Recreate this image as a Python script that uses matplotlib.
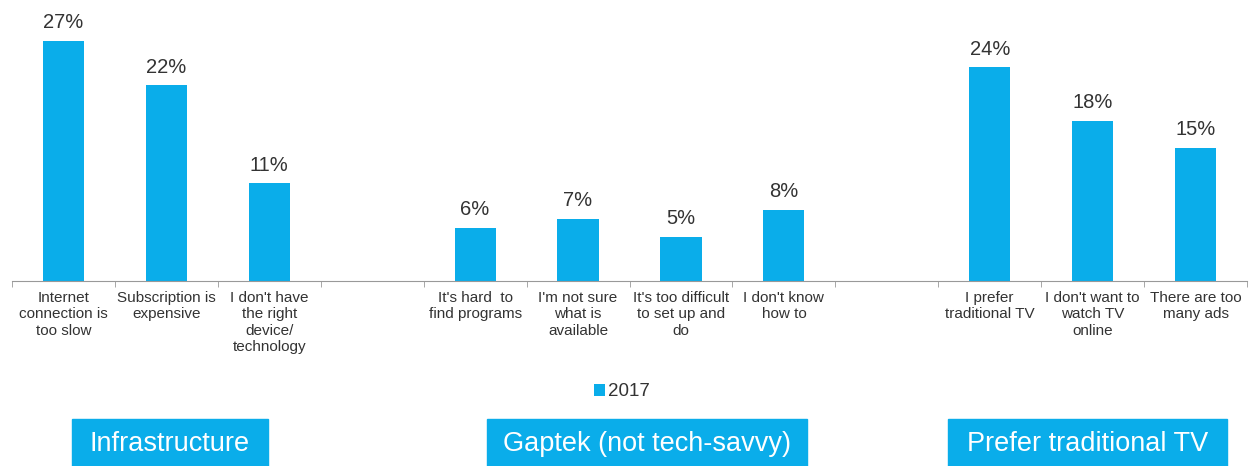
import matplotlib
matplotlib.use("Agg")
import matplotlib.pyplot as plt
import numpy as np

plt.rcParams["font.family"] = ["Liberation Sans", "DejaVu Sans"]
BLUE = "#0AADEA"; TXT = "#333333"

# 12 slots, two of them empty separators
labels = ["Internet\nconnection is\ntoo slow", "Subscription is\nexpensive",
          "I don't have\nthe right\ndevice/\ntechnology", "",
          "It's hard  to\nfind programs", "I'm not sure\nwhat is\navailable",
          "It's too difficult\nto set up and\ndo", "I don't know\nhow to", "",
          "I prefer\ntraditional TV", "I don't want to\nwatch TV\nonline",
          "There are too\nmany ads"]
values = [27, 22, 11, None, 6, 7, 5, 8, None, 24, 18, 15]
groups = ["Infrastructure", "Gaptek (not tech-savvy)", "Prefer traditional TV"]
series = "2017"

W, H = 1255, 466
fig = plt.figure(figsize=(W / 100, H / 100), dpi=100)
ax = fig.add_axes([12 / W, 1 - 281 / H, 1235 / W, 281 / H])

x = np.arange(len(labels))
xs = [i for i, v in zip(x, values) if v is not None]
vs = [v for v in values if v is not None]
bars = ax.bar(xs, vs, width=0.4, color=BLUE, label=series)
for b, v in zip(bars, vs):
    ax.annotate(f"{v}%", (b.get_x() + b.get_width() / 2, v), textcoords="offset points",
                xytext=(0, 6), ha="center", va="bottom", fontsize=14.5, color=TXT)

ax.set_xlim(-0.5, len(labels) - 0.5)
ax.set_ylim(0, 281 / 8.9)
ax.set_xticks(x)
ax.set_xticklabels(labels, fontsize=11, color=TXT, linespacing=1.22, va="top")
ax.set_xticks(np.arange(len(labels) + 1) - 0.5, minor=True)
ax.tick_params(axis="x", which="major", length=0, pad=7)
ax.tick_params(axis="x", which="minor", length=4, color="#999999", direction="out")
ax.set_yticks([])
for s in ["top", "right", "left"]:
    ax.spines[s].set_visible(False)
ax.spines["bottom"].set_color("#999999")

fig.legend(loc="center", bbox_to_anchor=(622 / W, 1 - 392 / H), frameon=False,
           fontsize=13.5, handlelength=0.6, handleheight=0.6, handletextpad=0.15,
           labelcolor=TXT)

# group boxes at bottom (pixel extents)
boxes = [(72, 268), (487, 807), (948, 1227)]
for (x0, x1), g in zip(boxes, groups):
    fig.patches.append(plt.Rectangle((x0 / W, 0), (x1 - x0) / W, 47 / H,
                                     transform=fig.transFigure, color=BLUE, zorder=0))
    fig.text((x0 + x1) / 2 / W, 22 / H, g, ha="center", va="center", color="white", fontsize=19.5)

fig.savefig("out.png", dpi=100)
